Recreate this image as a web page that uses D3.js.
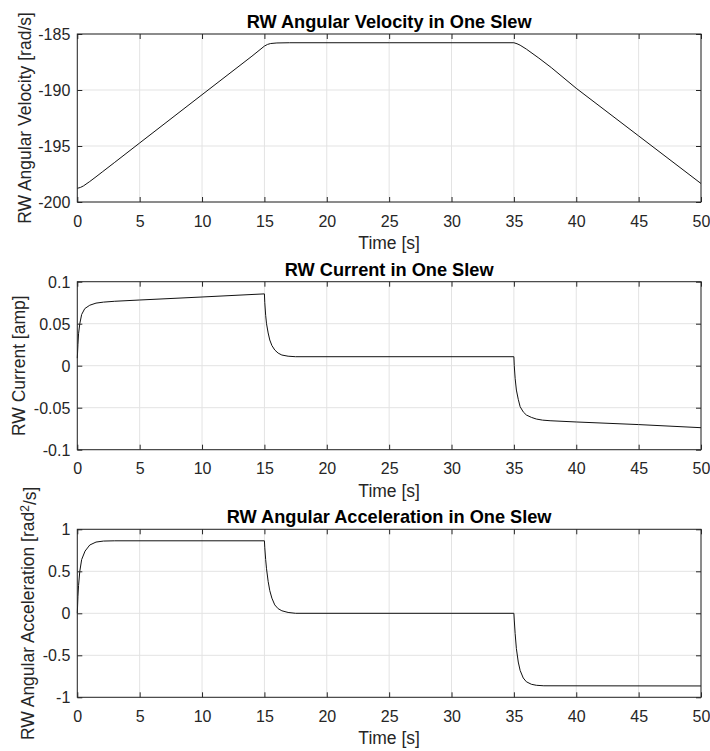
<!DOCTYPE html>
<html>
<head>
<meta charset="utf-8">
<script src="https://cdn.jsdelivr.net/npm/d3@7"></script>
<style>
  html, body { margin: 0; padding: 0; background: #fff; }
  svg { display: block; }
  text { font-family: "Liberation Sans", Arial, Helvetica, sans-serif; }
</style>
</head>
<body>
<svg id="chart" width="710" height="751"></svg>
<script>
// ---------------- DATA ----------------
const xTicks = [0, 5, 10, 15, 20, 25, 30, 35, 40, 45, 50];
const xTickLabels = ["0", "5", "10", "15", "20", "25", "30", "35", "40", "45", "50"];

// Panel 1: RW angular velocity [rad/s]
const velTime = [0, 0.25, 0.5, 1, 1.5, 2, 3, 5, 10, 14, 15, 15.25, 15.5, 16, 17, 25, 35,
                 35.25, 35.5, 36, 37, 38, 40, 45, 50];
const velocity = [-198.78, -198.7, -198.56, -198.17, -197.75, -197.32, -196.46, -194.73, -190.42,
                  -186.98, -186.08, -185.93, -185.85, -185.8, -185.78, -185.78, -185.78,
                  -185.87, -186.0, -186.35, -187.15, -188.0, -189.85, -194.1, -198.35];
const velYTicks = [-200, -195, -190, -185];
const velYTickLabels = ["-200", "-195", "-190", "-185"];

// Panel 2: RW current [amp]
const curTime = [0, 0.05, 0.1, 0.2, 0.35, 0.6, 1.0, 1.5, 2.1, 3, 5, 10, 15,
                 15.03, 15.1, 15.17, 15.3, 15.43, 15.6, 15.83, 16.1, 16.4, 16.9, 17.5, 35,
                 35.03, 35.1, 35.2, 35.35, 35.5, 35.75, 36.0, 36.4, 36.8, 37.3, 37.9, 40, 45, 50];
const current = [0.009, 0.025, 0.038, 0.05, 0.061, 0.068, 0.072, 0.0745, 0.0757, 0.0767, 0.0782, 0.0818, 0.0855,
                 0.075, 0.06, 0.05, 0.039, 0.0306, 0.024, 0.0187, 0.015, 0.0127, 0.0113, 0.0107, 0.0107,
                 0.0, -0.015, -0.029, -0.040, -0.0488, -0.055, -0.0587, -0.0615, -0.0635, -0.0648, -0.0655,
                 -0.0670, -0.0701, -0.0738];
const curYTicks = [-0.1, -0.05, 0, 0.05, 0.1];
const curYTickLabels = ["-0.1", "-0.05", "0", "0.05", "0.1"];

// Panel 3: RW angular acceleration [rad^2/s]
const accTime = [0, 0.05, 0.1, 0.2, 0.35, 0.62, 1.0, 1.5, 2.1, 3, 15,
                 15.03, 15.1, 15.17, 15.3, 15.43, 15.6, 15.83, 16.1, 16.4, 16.9, 17.5, 35,
                 35.03, 35.1, 35.2, 35.35, 35.5, 35.75, 36.0, 36.4, 36.8, 37.4, 50];
const acceleration = [0, 0.2, 0.33, 0.5, 0.64, 0.74, 0.813, 0.848, 0.86, 0.863, 0.863,
                      0.78, 0.64, 0.53, 0.38, 0.27, 0.18, 0.10, 0.055, 0.03, 0.01, 0.0, 0.0,
                      -0.08, -0.24, -0.42, -0.58, -0.68, -0.77, -0.815, -0.845, -0.857, -0.863, -0.865];
const accYTicks = [-1, -0.5, 0, 0.5, 1];
const accYTickLabels = ["-1", "-0.5", "0", "0.5", "1"];

// ---------------- LAYOUT ----------------
const svg = d3.select("#chart");
svg.append("rect").attr("width", 710).attr("height", 751).attr("fill", "#fff");

const left = 77.3, right = 701, plotH = 168;
const x = d3.scaleLinear().domain([0, 50]).range([left, right]);

const panels = [
  { top: 34, time: velTime, values: velocity, domain: [-200, -185], yTicks: velYTicks, yLabels: velYTickLabels,
    title: "RW Angular Velocity in One Slew", ylabel: ["RW Angular Velocity [rad/s]"], ylabelX: 31 },
  { top: 281.7, time: curTime, values: current, domain: [-0.1, 0.1], yTicks: curYTicks, yLabels: curYTickLabels,
    title: "RW Current in One Slew", ylabel: ["RW Current [amp]"], ylabelX: 24.5 },
  { top: 529.3, time: accTime, values: acceleration, domain: [-1, 1], yTicks: accYTicks, yLabels: accYTickLabels,
    title: "RW Angular Acceleration in One Slew", ylabel: ["RW Angular Acceleration [rad", "2", "/s]"], ylabelX: 34 }
];

const gridColor = "#e3e3e3";
const axisColor = "#262626";
const textColor = "#262626";

panels.forEach(p => {
  const y = d3.scaleLinear().domain(p.domain).range([p.top + plotH, p.top]);
  const g = svg.append("g");
  const bottom = p.top + plotH;

  // grid
  g.append("g").selectAll("line.gx").data(xTicks).join("line")
    .attr("x1", d => x(d)).attr("x2", d => x(d))
    .attr("y1", p.top).attr("y2", bottom)
    .attr("stroke", gridColor).attr("stroke-width", 1);
  g.append("g").selectAll("line.gy").data(p.yTicks).join("line")
    .attr("x1", left).attr("x2", right)
    .attr("y1", d => y(d)).attr("y2", d => y(d))
    .attr("stroke", gridColor).attr("stroke-width", 1);

  // data line
  const pts = p.time.map((t, i) => [t, p.values[i]]);
  g.append("path")
    .datum(pts)
    .attr("fill", "none")
    .attr("stroke", "#111")
    .attr("stroke-width", 1)
    .attr("d", d3.line().x(d => x(d[0])).y(d => y(d[1])));

  // axes
  const xb = d3.axisBottom(x).tickValues(xTicks).tickSize(-5).tickPadding(13.3)
    .tickFormat((d, i) => xTickLabels[i]);
  const gxb = g.append("g").attr("transform", `translate(0,${bottom})`).call(xb);
  const xt = d3.axisTop(x).tickValues(xTicks).tickSize(-5).tickFormat("");
  const gxt = g.append("g").attr("transform", `translate(0,${p.top})`).call(xt);
  const yl = d3.axisLeft(y).tickValues(p.yTicks).tickSize(-5).tickPadding(7)
    .tickFormat((d, i) => p.yLabels[i]);
  const gyl = g.append("g").attr("transform", `translate(${left},0)`).call(yl);
  const yr = d3.axisRight(y).tickValues(p.yTicks).tickSize(-5).tickFormat("");
  const gyr = g.append("g").attr("transform", `translate(${right},0)`).call(yr);

  [gxb, gxt, gyl, gyr].forEach(a => {
    a.select(".domain").remove();
    a.selectAll(".tick line").attr("stroke", axisColor).attr("stroke-width", 1);
    a.selectAll(".tick text").attr("fill", textColor)
      .style("font-family", '"Liberation Sans", Arial, sans-serif')
      .style("font-size", "16px");
  });
  gyl.selectAll(".tick text").attr("dy", "0.35em");

  // box
  g.append("rect")
    .attr("x", left).attr("y", p.top)
    .attr("width", right - left).attr("height", plotH)
    .attr("fill", "none").attr("stroke", axisColor).attr("stroke-width", 1);

  // title
  g.append("text")
    .attr("x", (left + right) / 2).attr("y", p.top - 6)
    .attr("text-anchor", "middle")
    .attr("fill", "#000")
    .style("font-size", "18.2px").style("font-weight", "bold")
    .text(p.title);

  // x label
  g.append("text")
    .attr("x", (left + right) / 2).attr("y", bottom + 47)
    .attr("text-anchor", "middle")
    .attr("fill", textColor)
    .style("font-size", "17.5px")
    .text("Time [s]");

  // y label
  const yt = g.append("text")
    .attr("transform", `translate(${p.ylabelX},${p.top + plotH / 2}) rotate(-90)`)
    .attr("text-anchor", "middle")
    .attr("fill", textColor)
    .style("font-size", "17.5px");
  if (p.ylabel.length === 1) {
    yt.text(p.ylabel[0]);
  } else {
    yt.append("tspan").text(p.ylabel[0]);
    yt.append("tspan").attr("dy", "-0.45em").style("font-size", "12px").text(p.ylabel[1]);
    yt.append("tspan").attr("dy", "0.45em").text(p.ylabel[2]);
  }
});
</script>
</body>
</html>
